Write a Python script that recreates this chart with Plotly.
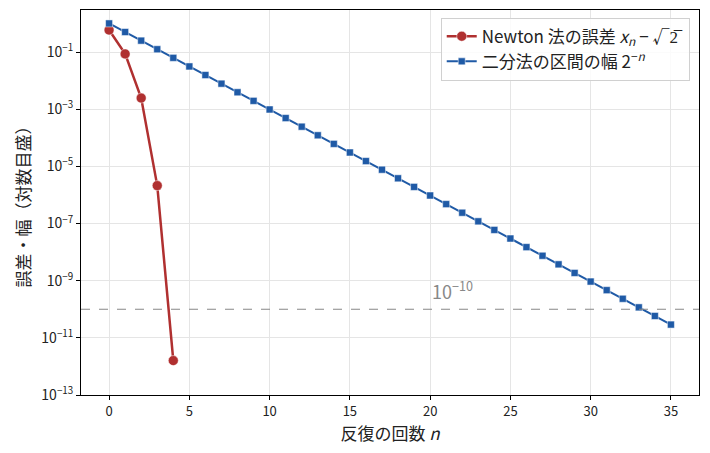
import plotly.graph_objects as go

# Newton iterations for sqrt(2), error x_n - sqrt(2)
newton_n = [0, 1, 2, 3, 4]
newton_err = [5.86e-1, 8.58e-2, 2.45e-3, 2.12e-6, 1.6e-12]

# bisection interval width 2^-n
bisect_n = list(range(36))
bisect_width = [
    1.0, 5.0e-1, 2.5e-1, 1.25e-1, 6.25e-2, 3.125e-2, 1.5625e-2, 7.8125e-3,
    3.90625e-3, 1.953125e-3, 9.765625e-4, 4.8828125e-4, 2.44140625e-4,
    1.220703125e-4, 6.103515625e-5, 3.0517578125e-5, 1.52587890625e-5,
    7.62939453125e-6, 3.814697265625e-6, 1.9073486328125e-6,
    9.5367431640625e-7, 4.76837158203125e-7, 2.384185791015625e-7,
    1.1920928955078125e-7, 5.960464477539063e-8, 2.9802322387695312e-8,
    1.4901161193847656e-8, 7.450580596923828e-9, 3.725290298461914e-9,
    1.862645149230957e-9, 9.313225746154785e-10, 4.656612873077393e-10,
    2.3283064365386963e-10, 1.1641532182693481e-10, 5.820766091346741e-11,
    2.9103830456733704e-11,
]

tol = 1e-10
tol_exp = -10
y_ticks = [1e-13, 1e-11, 1e-9, 1e-7, 1e-5, 1e-3, 1e-1]
y_labels = ["10<sup>−13</sup>", "10<sup>−11</sup>", "10<sup>−9</sup>", "10<sup>−7</sup>",
            "10<sup>−5</sup>", "10<sup>−3</sup>", "10<sup>−1</sup>"]

RED = "#b03030"
BLUE = "#1f5aa6"
FONT = "Noto Sans CJK JP"

fig = go.Figure()

fig.add_trace(go.Scatter(
    x=newton_n, y=newton_err, mode="lines+markers",
    name="Newton 法の誤差 <i>x<sub>n</sub></i> − √2\u0305",
    line=dict(color=RED, width=2.5),
    marker=dict(symbol="circle", size=10, color=RED, line=dict(color="white", width=0.5)),
))

fig.add_trace(go.Scatter(
    x=bisect_n, y=bisect_width, mode="lines+markers",
    name="二分法の区間の幅 2<sup>−<i>n</i></sup>",
    line=dict(color=BLUE, width=2),
    marker=dict(symbol="square", size=7, color=BLUE, line=dict(color="white", width=0.5)),
))

fig.add_hline(y=tol, line=dict(color="#888888", width=1.2, dash="dash"))
# log axis: annotation y is given as the exponent
fig.add_annotation(
    x=20, y=tol_exp, yshift=3, text="10<sup>−10</sup>", showarrow=False,
    xanchor="left", yanchor="bottom", font=dict(size=18, color="#888888", family=FONT),
)

# page body has an 8px margin, so the figure is a bit smaller than the window
fig.update_layout(
    width=694, height=437,
    margin=dict(l=73, r=3, t=2, b=50),
    paper_bgcolor="white", plot_bgcolor="white",
    font=dict(family=FONT, size=13, color="#222222"),
    legend=dict(
        x=0.985, y=0.98, xanchor="right", yanchor="top",
        bgcolor="rgba(255,255,255,0.85)", bordercolor="#d0d0d0", borderwidth=1,
        font=dict(size=17, color="#222222"),
    ),
    xaxis=dict(
        range=[-1.75, 36.75], tickvals=[0, 5, 10, 15, 20, 25, 30, 35],
        showgrid=True, gridcolor="#e5e5e5", zeroline=False,
        showline=True, linecolor="black", linewidth=1, mirror=True,
        ticks="outside", ticklen=4, tickcolor="black", automargin=False,
        tickfont=dict(size=13),
        title=dict(text="反復の回数 <i>n</i>", font=dict(size=17), standoff=6),
    ),
    yaxis=dict(
        type="log", range=[-13, 0.47], tickvals=y_ticks, ticktext=y_labels,
        showgrid=True, gridcolor="#e5e5e5", zeroline=False,
        showline=True, linecolor="black", linewidth=1, mirror=True,
        ticks="outside", ticklen=4, tickcolor="black", automargin=False,
        tickfont=dict(size=14),
        title=dict(text="誤差・幅（対数目盛）", font=dict(size=17), standoff=6),
    ),
)

fig.write_html("out.html")
